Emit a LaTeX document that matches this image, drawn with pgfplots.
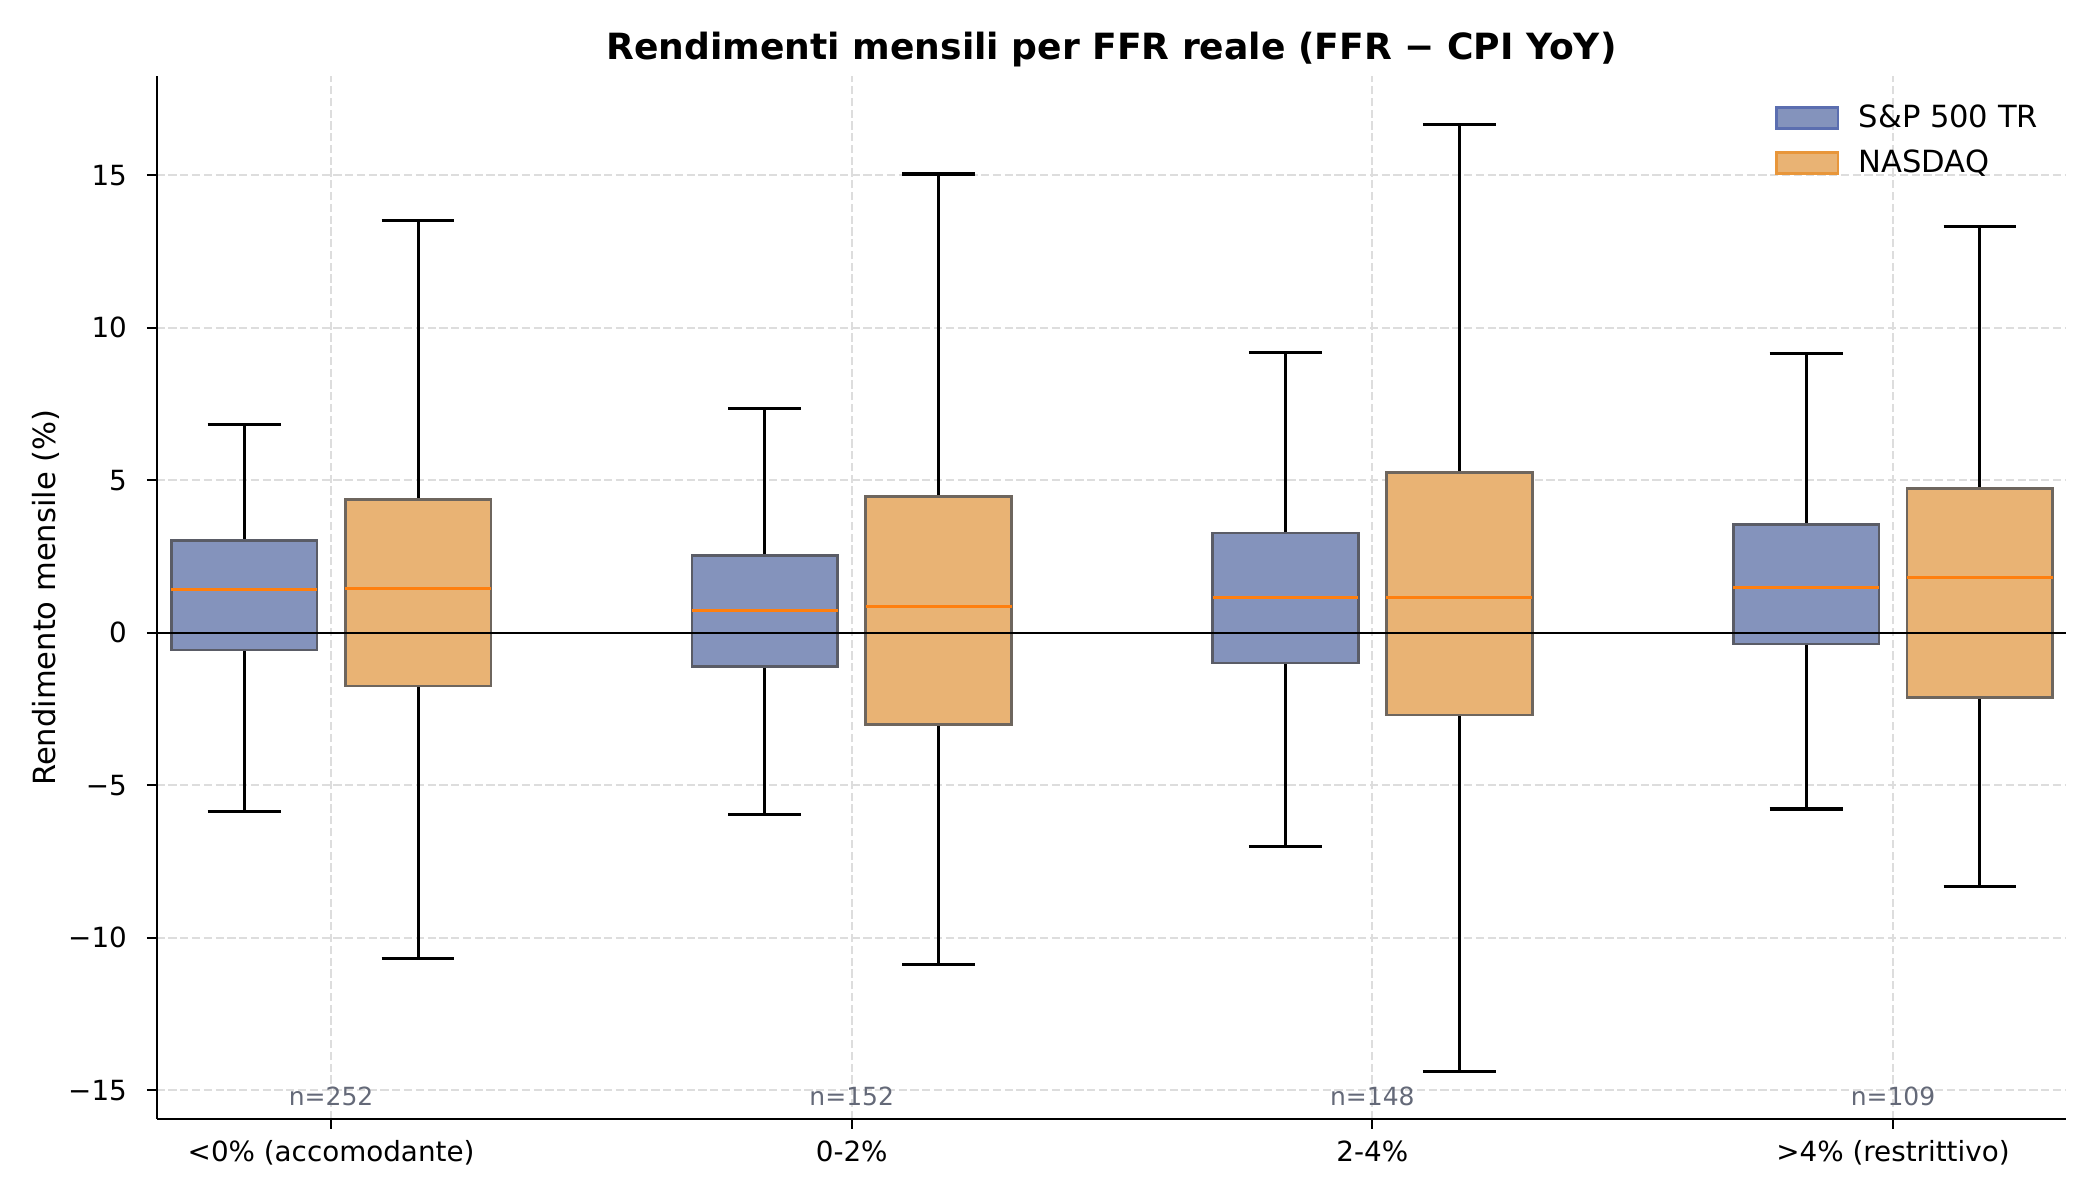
\documentclass[border=0pt]{standalone}
\usepackage{fontspec}
\setmainfont{DejaVu Sans}
\usepackage{pgfplots}
\pgfplotsset{compat=1.18}
\usepgfplotslibrary{statistics}

\definecolor{spfill}{HTML}{8493BC}
\definecolor{spedge}{HTML}{5B6EB0}
\definecolor{nqfill}{HTML}{E9B374}
\definecolor{nqedge}{HTML}{E8963A}
\definecolor{boxedgeA}{HTML}{5A5C66}
\definecolor{boxedgeB}{HTML}{6E665E}
\definecolor{medc}{HTML}{FF7F0E}
\definecolor{ngray}{HTML}{646978}
\definecolor{gridc}{HTML}{DDDDDD}

\pgfplotsset{
  spstyle/.style={forget plot, draw=black,
    boxplot/draw direction=y,
    boxplot/every box/.style={fill=spfill, draw=boxedgeA, line width=1pt},
    boxplot/every whisker/.style={draw=black, line width=1.1pt},
    boxplot/every median/.style={draw=medc, line width=1pt}},
  nqstyle/.style={forget plot, draw=black,
    boxplot/draw direction=y,
    boxplot/every box/.style={fill=nqfill, draw=boxedgeB, line width=1pt},
    boxplot/every whisker/.style={draw=black, line width=1.1pt},
    boxplot/every median/.style={draw=medc, line width=1pt}},
}

\begin{document}
\begin{tikzpicture}
\path[use as bounding box] (-56.4pt,-29.2pt) rectangle (699.6pt,402.8pt);
\begin{axis}[
  at={(0,0)}, anchor=south west,
  scale only axis, width=687.5pt, height=375.3pt,
  xmin=-0.335, xmax=3.333, ymin=-15.94, ymax=18.24,
  axis x line*=bottom, axis y line*=left,
  axis line style={line width=0.8pt, -},
  xtick={0,1,2,3},
  xticklabels={<0\% (accomodante), 0-2\%, 2-4\%, >4\% (restrittivo)},
  ytick={-15,-10,-5,0,5,10,15},
  yticklabels={−15,−10,−5,0,5,10,15},
  tick align=outside, major tick length=3.5pt,
  tick style={black, line width=0.8pt},
  xmajorgrids, ymajorgrids,
  grid style={gridc, line width=0.8pt, dash pattern=on 2.96pt off 1.28pt},
  ticklabel style={font=\fontsize{10}{12}\selectfont},
  xticklabel style={yshift=-0.8pt},
  yticklabel style={xshift=-3.7pt},
  ylabel={Rendimento mensile (\%)},
  ylabel style={font=\fontsize{11}{13}\selectfont, at={(axis description cs:-0.05818,0.5)}, anchor=center},
  title={Rendimenti mensili per FFR reale (FFR − CPI YoY)},
  title style={font=\bfseries\fontsize{13}{15}\selectfont, at={(axis description cs:0.5,1)}, anchor=base, yshift=0pt},
  legend style={at={(axis description cs:1,1)}, anchor=north east, xshift=-5pt, yshift=-6pt,
    draw=none, fill=none, font=\fontsize{11}{13}\selectfont, row sep=2.5pt,
    /tikz/every odd column/.append style={column sep=5pt}},
  legend cell align=left,
]
% S&P 500 TR
\addplot[spstyle, boxplot prepared={draw position=-0.167, lower whisker=-5.86, lower quartile=-0.57, median=1.42, upper quartile=3.02, upper whisker=6.84, box extend=0.28, whisker extend=0.14}] coordinates {};
\addplot[spstyle, boxplot prepared={draw position=0.833, lower whisker=-5.95, lower quartile=-1.12, median=0.72, upper quartile=2.53, upper whisker=7.36, box extend=0.28, whisker extend=0.14}] coordinates {};
\addplot[spstyle, boxplot prepared={draw position=1.833, lower whisker=-7.00, lower quartile=-0.99, median=1.16, upper quartile=3.27, upper whisker=9.20, box extend=0.28, whisker extend=0.14}] coordinates {};
\addplot[spstyle, boxplot prepared={draw position=2.833, lower whisker=-5.78, lower quartile=-0.37, median=1.47, upper quartile=3.54, upper whisker=9.16, box extend=0.28, whisker extend=0.14}] coordinates {};
% NASDAQ
\addplot[nqstyle, boxplot prepared={draw position=0.167, lower whisker=-10.69, lower quartile=-1.75, median=1.46, upper quartile=4.37, upper whisker=13.50, box extend=0.28, whisker extend=0.14}] coordinates {};
\addplot[nqstyle, boxplot prepared={draw position=1.167, lower whisker=-10.87, lower quartile=-3.01, median=0.86, upper quartile=4.46, upper whisker=15.04, box extend=0.28, whisker extend=0.14}] coordinates {};
\addplot[nqstyle, boxplot prepared={draw position=2.167, lower whisker=-14.38, lower quartile=-2.70, median=1.16, upper quartile=5.25, upper whisker=16.67, box extend=0.28, whisker extend=0.14}] coordinates {};
\addplot[nqstyle, boxplot prepared={draw position=3.167, lower whisker=-8.32, lower quartile=-2.13, median=1.82, upper quartile=4.72, upper whisker=13.33, box extend=0.28, whisker extend=0.14}] coordinates {};
% zero line
\addplot[black, line width=0.7pt, forget plot] coordinates {(-0.335,0) (3.333,0)};
% legend
\addlegendimage{legend image code/.code={\draw[fill=spfill, draw=spedge, line width=1pt] (0pt,-3.85pt) rectangle (22pt,3.85pt);}}
\addlegendentry{S\&P 500 TR}
\addlegendimage{legend image code/.code={\draw[fill=nqfill, draw=nqedge, line width=1pt] (0pt,-3.85pt) rectangle (22pt,3.85pt);}}
\addlegendentry{NASDAQ}
% counts
\node[font=\fontsize{9}{11}\selectfont, text=ngray, anchor=base] at (axis cs:0,-15.51) {n=252};
\node[font=\fontsize{9}{11}\selectfont, text=ngray, anchor=base] at (axis cs:1,-15.51) {n=152};
\node[font=\fontsize{9}{11}\selectfont, text=ngray, anchor=base] at (axis cs:2,-15.51) {n=148};
\node[font=\fontsize{9}{11}\selectfont, text=ngray, anchor=base] at (axis cs:3,-15.51) {n=109};
\end{axis}
\end{tikzpicture}
\end{document}
